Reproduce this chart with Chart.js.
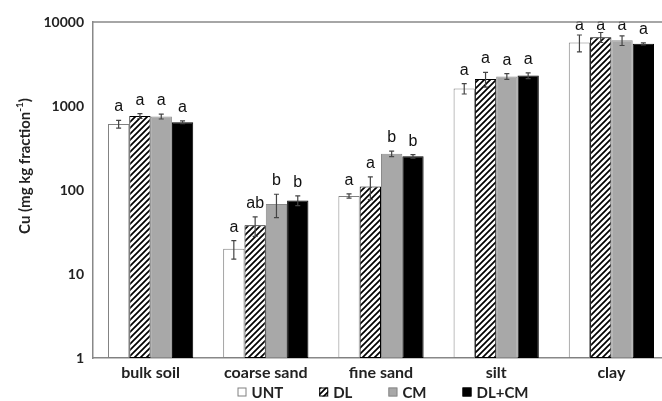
<!DOCTYPE html>
<html>
<head>
  <meta charset="UTF-8">
  <title>Cu by soil fraction</title>
  <script src="https://cdn.jsdelivr.net/npm/chart.js"></script>
  <style>
    html, body { margin: 0; padding: 0; background: #fff; overflow: hidden; }
    #wrap { width: 662px; height: 401px; overflow: hidden; }
  </style>
</head>
<body>
  <div id="wrap"><canvas id="cuChart" width="669" height="401"></canvas></div>

  <script>
    // Data
    const categories = ["bulk soil", "coarse sand", "fine sand", "silt", "clay"];
    const seriesNames = ["UNT", "DL", "CM", "DL+CM"];

    const untValues  = [610, 20, 85, 1620, 5700];
    const untErrors  = [65, 5, 5, 230, 1300];
    const untLetters = ["a", "a", "a", "a", "a"];

    const dlValues  = [760, 38, 110, 2100, 6600];
    const dlErrors  = [50, 10, 33, 420, 900];
    const dlLetters = ["a", "ab", "a", "a", "a"];

    const cmValues  = [750, 68, 270, 2250, 6050];
    const cmErrors  = [50, 21, 20, 180, 800];
    const cmLetters = ["a", "b", "b", "a", "a"];

    const dlcmValues  = [640, 75, 252, 2300, 5500];
    const dlcmErrors  = [25, 10, 12, 180, 150];
    const dlcmLetters = ["a", "b", "b", "a", "a"];

    const yTicks = [1, 10, 100, 1000, 10000];

    const canvas = document.getElementById("cuChart");
    const ctx = canvas.getContext("2d");

    // diagonal hatch for DL
    function makeHatch() {
      const c = document.createElement("canvas");
      c.width = 6; c.height = 6;
      const g = c.getContext("2d");
      g.fillStyle = "#fff";
      g.fillRect(0, 0, 6, 6);
      g.strokeStyle = "#000";
      g.lineWidth = 1.7;
      g.beginPath();
      g.moveTo(-1, 7); g.lineTo(7, -1);
      g.moveTo(-4, 4); g.lineTo(4, -4);
      g.moveTo(2, 10); g.lineTo(10, 2);
      g.stroke();
      return ctx.createPattern(c, "repeat");
    }
    const hatch = makeHatch();

    const fonts = "Lato, 'Open Sans', sans-serif";

    // error bars and significance letters
    const errorBars = {
      id: "errorBars",
      afterDatasetsDraw(chart) {
        const c = chart.ctx;
        const y = chart.scales.y;
        const area = chart.chartArea;
        chart.data.datasets.forEach((ds, i) => {
          const meta = chart.getDatasetMeta(i);
          meta.data.forEach((bar, j) => {
            const v = ds.data[j], e = ds.errors[j];
            const top = y.getPixelForValue(v + e);
            const bot = y.getPixelForValue(v - e);
            const x = bar.x;
            c.save();
            c.strokeStyle = "#444";
            c.lineWidth = 1.2;
            c.beginPath();
            c.moveTo(x, top); c.lineTo(x, bot);
            c.moveTo(x - 2.5, top); c.lineTo(x + 2.5, top);
            c.moveTo(x - 2.5, bot); c.lineTo(x + 2.5, bot);
            c.stroke();

            c.fillStyle = "#111";
            c.font = "16px 'Liberation Sans', Arial, sans-serif";
            c.textAlign = "center";
            c.textBaseline = "alphabetic";
            const base = Math.max(top - 9, area.top + 8);
            c.fillText(ds.letters[j], x, base);
            c.restore();
          });
        });
      }
    };

    // top frame line, y title and legend
    const extras = {
      id: "extras",
      afterDraw(chart) {
        const c = chart.ctx;
        const area = chart.chartArea;
        c.save();
        c.strokeStyle = "#888";
        c.lineWidth = 1.5;
        c.beginPath();
        c.moveTo(area.left, area.top);
        c.lineTo(area.right, area.top);
        c.stroke();

        // y axis title with superscript
        c.translate(25, 166);
        c.rotate(-Math.PI / 2);
        c.fillStyle = "#222";
        c.textBaseline = "middle";
        const main = "Cu (mg kg fraction";
        const sup = "-1";
        c.font = "bold 15px " + fonts;
        const w1 = c.measureText(main).width;
        c.font = "bold 10px " + fonts;
        const w2 = c.measureText(sup).width;
        c.font = "bold 15px " + fonts;
        const w3 = c.measureText(")").width;
        let x0 = -(w1 + w2 + w3) / 2;
        c.textAlign = "left";
        c.fillText(main, x0, 0);
        c.font = "bold 10px " + fonts;
        c.fillText(sup, x0 + w1, -5);
        c.font = "bold 15px " + fonts;
        c.fillText(")", x0 + w1 + w2, 0);
        c.restore();

        // legend
        c.save();
        c.font = "bold 15px " + fonts;
        c.textBaseline = "middle";
        c.textAlign = "left";
        const box = 9, gap = 5, spacing = 36, ly = 392;
        const items = chart.data.datasets.map(ds => ({
          ds, w: box + gap + c.measureText(ds.label).width
        }));
        const total = items.reduce((s, it) => s + it.w, 0) + spacing * (items.length - 1);
        let lx = 383 - total / 2;
        items.forEach(it => {
          c.fillStyle = it.ds.backgroundColor;
          c.fillRect(lx, ly - box / 2, box, box);
          c.strokeStyle = it.ds.borderColor;
          c.lineWidth = 1;
          c.strokeRect(lx + 0.5, ly - box / 2 + 0.5, box - 1, box - 1);
          c.fillStyle = "#222";
          c.fillText(it.ds.label, lx + box + gap, ly + 1);
          lx += it.w + spacing;
        });
        c.restore();
      }
    };

    const cuChart = new Chart(ctx, {
      type: "bar",
      data: {
        labels: categories,
        datasets: [
          { label: seriesNames[0], data: untValues, errors: untErrors, letters: untLetters,
            backgroundColor: "#ffffff", borderColor: "#808080" },
          { label: seriesNames[1], data: dlValues, errors: dlErrors, letters: dlLetters,
            backgroundColor: hatch, borderColor: "#000000" },
          { label: seriesNames[2], data: cmValues, errors: cmErrors, letters: cmLetters,
            backgroundColor: "#a8a8a8", borderColor: "#8a8a8a" },
          { label: seriesNames[3], data: dlcmValues, errors: dlcmErrors, letters: dlcmLetters,
            backgroundColor: "#000000", borderColor: "#000000" }
        ]
      },
      options: {
        responsive: false,
        animation: false,
        devicePixelRatio: 1,
        layout: { padding: { top: 22, right: 0, bottom: 0, left: 0 } },
        datasets: {
          bar: {
            borderWidth: 1,
            borderSkipped: false,
            categoryPercentage: 0.74,
            barPercentage: 1
          }
        },
        plugins: {
          legend: { display: false },
          tooltip: { enabled: false }
        },
        scales: {
          x: {
            grid: { display: false, drawTicks: false },
            border: { display: true, color: "#888", width: 1.5 },
            ticks: {
              color: "#222",
              padding: 5,
              font: { family: fonts, size: 16, weight: "bold" }
            },
            afterFit: s => { s.height = 43; }
          },
          y: {
            type: "logarithmic",
            min: 1,
            max: 10000,
            grid: { display: false, drawTicks: false },
            border: { display: true, color: "#888", width: 1.5 },
            afterBuildTicks: s => { s.ticks = yTicks.map(v => ({ value: v })); },
            ticks: {
              color: "#222",
              padding: 9,
              font: { family: fonts, size: 14, weight: "bold" },
              callback: v => String(v)
            },
            afterFit: s => { s.width = 93; }
          }
        }
      },
      plugins: [errorBars, extras]
    });
  </script>
</body>
</html>
